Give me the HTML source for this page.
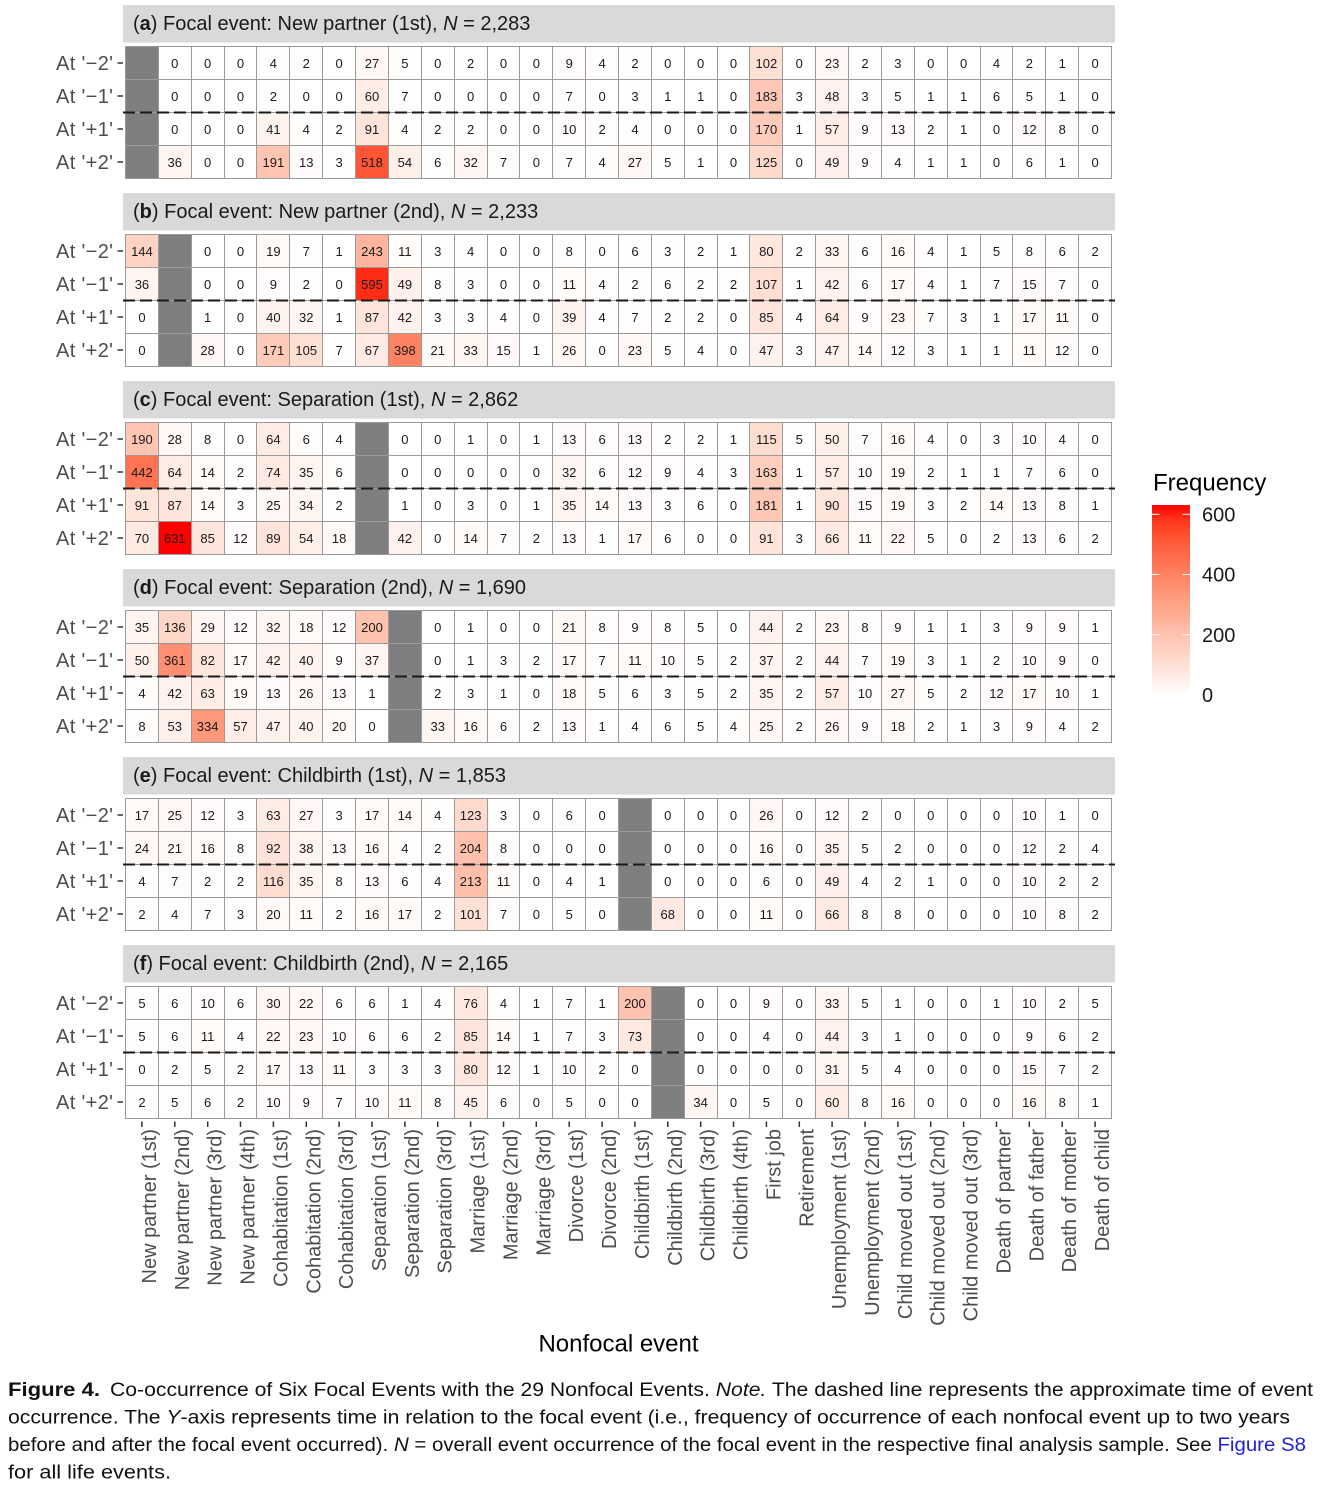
<!DOCTYPE html>
<html><head><meta charset="utf-8">
<style>
html,body{margin:0;padding:0;background:#fff;}
body{width:1322px;height:1498px;position:relative;overflow:hidden;font-family:"Liberation Sans",Arial,sans-serif;}
.g{position:absolute;left:125px;width:985px;height:131px;padding:1px;background:#9a9a9a;display:grid;grid-template-columns:repeat(30,1fr);grid-template-rows:repeat(4,1fr);gap:1px;z-index:1;}
.g i{font-style:normal;background:#fff;font:13px "Liberation Sans",Arial,sans-serif;color:#1a1a1a;display:flex;align-items:center;justify-content:center;}
.g i.x{background:#7f7f7f;}
svg{position:absolute;left:0;top:0;z-index:2;font-family:"Liberation Sans",Arial,sans-serif;}
</style></head><body>

<div class="g" style="top:46px">
<i class="x"></i><i>0</i><i>0</i><i>0</i><i>4</i><i>2</i><i>0</i><i>27</i><i>5</i><i>0</i><i>2</i><i>0</i><i>0</i><i>9</i><i>4</i><i>2</i><i>0</i><i>0</i><i>0</i><i>102</i><i>0</i><i>23</i><i>2</i><i>3</i><i>0</i><i>0</i><i>4</i><i>2</i><i>1</i><i>0</i>
<i class="x"></i><i>0</i><i>0</i><i>0</i><i>2</i><i>0</i><i>0</i><i>60</i><i>7</i><i>0</i><i>0</i><i>0</i><i>0</i><i>7</i><i>0</i><i>3</i><i>1</i><i>1</i><i>0</i><i>183</i><i>3</i><i>48</i><i>3</i><i>5</i><i>1</i><i>1</i><i>6</i><i>5</i><i>1</i><i>0</i>
<i class="x"></i><i>0</i><i>0</i><i>0</i><i>41</i><i>4</i><i>2</i><i>91</i><i>4</i><i>2</i><i>2</i><i>0</i><i>0</i><i>10</i><i>2</i><i>4</i><i>0</i><i>0</i><i>0</i><i>170</i><i>1</i><i>57</i><i>9</i><i>13</i><i>2</i><i>1</i><i>0</i><i>12</i><i>8</i><i>0</i>
<i class="x"></i><i>36</i><i>0</i><i>0</i><i>191</i><i>13</i><i>3</i><i>518</i><i>54</i><i>6</i><i>32</i><i>7</i><i>0</i><i>7</i><i>4</i><i>27</i><i>5</i><i>1</i><i>0</i><i>125</i><i>0</i><i>49</i><i>9</i><i>4</i><i>1</i><i>1</i><i>0</i><i>6</i><i>1</i><i>0</i>
</div>

<div class="g" style="top:234px">
<i>144</i><i class="x"></i><i>0</i><i>0</i><i>19</i><i>7</i><i>1</i><i>243</i><i>11</i><i>3</i><i>4</i><i>0</i><i>0</i><i>8</i><i>0</i><i>6</i><i>3</i><i>2</i><i>1</i><i>80</i><i>2</i><i>33</i><i>6</i><i>16</i><i>4</i><i>1</i><i>5</i><i>8</i><i>6</i><i>2</i>
<i>36</i><i class="x"></i><i>0</i><i>0</i><i>9</i><i>2</i><i>0</i><i>595</i><i>49</i><i>8</i><i>3</i><i>0</i><i>0</i><i>11</i><i>4</i><i>2</i><i>6</i><i>2</i><i>2</i><i>107</i><i>1</i><i>42</i><i>6</i><i>17</i><i>4</i><i>1</i><i>7</i><i>15</i><i>7</i><i>0</i>
<i>0</i><i class="x"></i><i>1</i><i>0</i><i>40</i><i>32</i><i>1</i><i>87</i><i>42</i><i>3</i><i>3</i><i>4</i><i>0</i><i>39</i><i>4</i><i>7</i><i>2</i><i>2</i><i>0</i><i>85</i><i>4</i><i>64</i><i>9</i><i>23</i><i>7</i><i>3</i><i>1</i><i>17</i><i>11</i><i>0</i>
<i>0</i><i class="x"></i><i>28</i><i>0</i><i>171</i><i>105</i><i>7</i><i>67</i><i>398</i><i>21</i><i>33</i><i>15</i><i>1</i><i>26</i><i>0</i><i>23</i><i>5</i><i>4</i><i>0</i><i>47</i><i>3</i><i>47</i><i>14</i><i>12</i><i>3</i><i>1</i><i>1</i><i>11</i><i>12</i><i>0</i>
</div>

<div class="g" style="top:422px">
<i>190</i><i>28</i><i>8</i><i>0</i><i>64</i><i>6</i><i>4</i><i class="x"></i><i>0</i><i>0</i><i>1</i><i>0</i><i>1</i><i>13</i><i>6</i><i>13</i><i>2</i><i>2</i><i>1</i><i>115</i><i>5</i><i>50</i><i>7</i><i>16</i><i>4</i><i>0</i><i>3</i><i>10</i><i>4</i><i>0</i>
<i>442</i><i>64</i><i>14</i><i>2</i><i>74</i><i>35</i><i>6</i><i class="x"></i><i>0</i><i>0</i><i>0</i><i>0</i><i>0</i><i>32</i><i>6</i><i>12</i><i>9</i><i>4</i><i>3</i><i>163</i><i>1</i><i>57</i><i>10</i><i>19</i><i>2</i><i>1</i><i>1</i><i>7</i><i>6</i><i>0</i>
<i>91</i><i>87</i><i>14</i><i>3</i><i>25</i><i>34</i><i>2</i><i class="x"></i><i>1</i><i>0</i><i>3</i><i>0</i><i>1</i><i>35</i><i>14</i><i>13</i><i>3</i><i>6</i><i>0</i><i>181</i><i>1</i><i>90</i><i>15</i><i>19</i><i>3</i><i>2</i><i>14</i><i>13</i><i>8</i><i>1</i>
<i>70</i><i>631</i><i>85</i><i>12</i><i>89</i><i>54</i><i>18</i><i class="x"></i><i>42</i><i>0</i><i>14</i><i>7</i><i>2</i><i>13</i><i>1</i><i>17</i><i>6</i><i>0</i><i>0</i><i>91</i><i>3</i><i>66</i><i>11</i><i>22</i><i>5</i><i>0</i><i>2</i><i>13</i><i>6</i><i>2</i>
</div>

<div class="g" style="top:610px">
<i>35</i><i>136</i><i>29</i><i>12</i><i>32</i><i>18</i><i>12</i><i>200</i><i class="x"></i><i>0</i><i>1</i><i>0</i><i>0</i><i>21</i><i>8</i><i>9</i><i>8</i><i>5</i><i>0</i><i>44</i><i>2</i><i>23</i><i>8</i><i>9</i><i>1</i><i>1</i><i>3</i><i>9</i><i>9</i><i>1</i>
<i>50</i><i>361</i><i>82</i><i>17</i><i>42</i><i>40</i><i>9</i><i>37</i><i class="x"></i><i>0</i><i>1</i><i>3</i><i>2</i><i>17</i><i>7</i><i>11</i><i>10</i><i>5</i><i>2</i><i>37</i><i>2</i><i>44</i><i>7</i><i>19</i><i>3</i><i>1</i><i>2</i><i>10</i><i>9</i><i>0</i>
<i>4</i><i>42</i><i>63</i><i>19</i><i>13</i><i>26</i><i>13</i><i>1</i><i class="x"></i><i>2</i><i>3</i><i>1</i><i>0</i><i>18</i><i>5</i><i>6</i><i>3</i><i>5</i><i>2</i><i>35</i><i>2</i><i>57</i><i>10</i><i>27</i><i>5</i><i>2</i><i>12</i><i>17</i><i>10</i><i>1</i>
<i>8</i><i>53</i><i>334</i><i>57</i><i>47</i><i>40</i><i>20</i><i>0</i><i class="x"></i><i>33</i><i>16</i><i>6</i><i>2</i><i>13</i><i>1</i><i>4</i><i>6</i><i>5</i><i>4</i><i>25</i><i>2</i><i>26</i><i>9</i><i>18</i><i>2</i><i>1</i><i>3</i><i>9</i><i>4</i><i>2</i>
</div>

<div class="g" style="top:798px">
<i>17</i><i>25</i><i>12</i><i>3</i><i>63</i><i>27</i><i>3</i><i>17</i><i>14</i><i>4</i><i>123</i><i>3</i><i>0</i><i>6</i><i>0</i><i class="x"></i><i>0</i><i>0</i><i>0</i><i>26</i><i>0</i><i>12</i><i>2</i><i>0</i><i>0</i><i>0</i><i>0</i><i>10</i><i>1</i><i>0</i>
<i>24</i><i>21</i><i>16</i><i>8</i><i>92</i><i>38</i><i>13</i><i>16</i><i>4</i><i>2</i><i>204</i><i>8</i><i>0</i><i>0</i><i>0</i><i class="x"></i><i>0</i><i>0</i><i>0</i><i>16</i><i>0</i><i>35</i><i>5</i><i>2</i><i>0</i><i>0</i><i>0</i><i>12</i><i>2</i><i>4</i>
<i>4</i><i>7</i><i>2</i><i>2</i><i>116</i><i>35</i><i>8</i><i>13</i><i>6</i><i>4</i><i>213</i><i>11</i><i>0</i><i>4</i><i>1</i><i class="x"></i><i>0</i><i>0</i><i>0</i><i>6</i><i>0</i><i>49</i><i>4</i><i>2</i><i>1</i><i>0</i><i>0</i><i>10</i><i>2</i><i>2</i>
<i>2</i><i>4</i><i>7</i><i>3</i><i>20</i><i>11</i><i>2</i><i>16</i><i>17</i><i>2</i><i>101</i><i>7</i><i>0</i><i>5</i><i>0</i><i class="x"></i><i>68</i><i>0</i><i>0</i><i>11</i><i>0</i><i>66</i><i>8</i><i>8</i><i>0</i><i>0</i><i>0</i><i>10</i><i>8</i><i>2</i>
</div>

<div class="g" style="top:986px">
<i>5</i><i>6</i><i>10</i><i>6</i><i>30</i><i>22</i><i>6</i><i>6</i><i>1</i><i>4</i><i>76</i><i>4</i><i>1</i><i>7</i><i>1</i><i>200</i><i class="x"></i><i>0</i><i>0</i><i>9</i><i>0</i><i>33</i><i>5</i><i>1</i><i>0</i><i>0</i><i>1</i><i>10</i><i>2</i><i>5</i>
<i>5</i><i>6</i><i>11</i><i>4</i><i>22</i><i>23</i><i>10</i><i>6</i><i>6</i><i>2</i><i>85</i><i>14</i><i>1</i><i>7</i><i>3</i><i>73</i><i class="x"></i><i>0</i><i>0</i><i>4</i><i>0</i><i>44</i><i>3</i><i>1</i><i>0</i><i>0</i><i>0</i><i>9</i><i>6</i><i>2</i>
<i>0</i><i>2</i><i>5</i><i>2</i><i>17</i><i>13</i><i>11</i><i>3</i><i>3</i><i>3</i><i>80</i><i>12</i><i>1</i><i>10</i><i>2</i><i>0</i><i class="x"></i><i>0</i><i>0</i><i>0</i><i>0</i><i>31</i><i>5</i><i>4</i><i>0</i><i>0</i><i>0</i><i>15</i><i>7</i><i>2</i>
<i>2</i><i>5</i><i>6</i><i>2</i><i>10</i><i>9</i><i>7</i><i>10</i><i>11</i><i>8</i><i>45</i><i>6</i><i>0</i><i>5</i><i>0</i><i>0</i><i class="x"></i><i>34</i><i>0</i><i>5</i><i>0</i><i>60</i><i>8</i><i>16</i><i>0</i><i>0</i><i>0</i><i>16</i><i>8</i><i>1</i>
</div>

<svg width="1322" height="1498" viewBox="0 0 1322 1498" xmlns="http://www.w3.org/2000/svg">
<defs>
<linearGradient id="lg" x1="0" y1="1" x2="0" y2="0">
<stop offset="0" stop-color="#ffffff"/>
<stop offset="0.15" stop-color="rgb(255,226,216)"/>
<stop offset="0.317" stop-color="rgb(255,194,174)"/>
<stop offset="0.5" stop-color="rgb(255,158,129)"/>
<stop offset="0.65" stop-color="rgb(255,126,94)"/>
<stop offset="0.82" stop-color="rgb(255,86,53)"/>
<stop offset="0.92" stop-color="rgb(255,54,28)"/>
<stop offset="1" stop-color="rgb(255,0,0)"/>
</linearGradient>
</defs>

<g fill="#d9d9d9">
<rect x="123" y="5" width="992" height="37.5"/>
<rect x="123" y="193" width="992" height="37.5"/>
<rect x="123" y="381" width="992" height="37.5"/>
<rect x="123" y="569" width="992" height="37.5"/>
<rect x="123" y="757" width="992" height="37.5"/>
<rect x="123" y="945" width="992" height="37.5"/>
</g>
<g font-size="20" fill="#1a1a1a">
<text x="133" y="30">(<tspan font-weight="bold">a</tspan>) Focal event: New partner (1st), <tspan font-style="italic">N</tspan> = 2,283</text>
<text x="133" y="218">(<tspan font-weight="bold">b</tspan>) Focal event: New partner (2nd), <tspan font-style="italic">N</tspan> = 2,233</text>
<text x="133" y="406">(<tspan font-weight="bold">c</tspan>) Focal event: Separation (1st), <tspan font-style="italic">N</tspan> = 2,862</text>
<text x="133" y="594">(<tspan font-weight="bold">d</tspan>) Focal event: Separation (2nd), <tspan font-style="italic">N</tspan> = 1,690</text>
<text x="133" y="782">(<tspan font-weight="bold">e</tspan>) Focal event: Childbirth (1st), <tspan font-style="italic">N</tspan> = 1,853</text>
<text x="133" y="970">(<tspan font-weight="bold">f</tspan>) Focal event: Childbirth (2nd), <tspan font-style="italic">N</tspan> = 2,165</text>
</g>

<g stroke="#1a1a1a" stroke-width="2" stroke-dasharray="12 5">
<line x1="123" y1="112.5" x2="1115" y2="112.5"/>
<line x1="123" y1="300.5" x2="1115" y2="300.5"/>
<line x1="123" y1="488.5" x2="1115" y2="488.5"/>
<line x1="123" y1="676.5" x2="1115" y2="676.5"/>
<line x1="123" y1="864.5" x2="1115" y2="864.5"/>
<line x1="123" y1="1052.5" x2="1115" y2="1052.5"/>
</g>

<g stroke="#333" stroke-width="1.5">
<line x1="117.5" x2="123" y1="63" y2="63"/><line x1="117.5" x2="123" y1="96" y2="96"/><line x1="117.5" x2="123" y1="129" y2="129"/><line x1="117.5" x2="123" y1="162" y2="162"/>
<line x1="117.5" x2="123" y1="251" y2="251"/><line x1="117.5" x2="123" y1="284" y2="284"/><line x1="117.5" x2="123" y1="317" y2="317"/><line x1="117.5" x2="123" y1="350" y2="350"/>
<line x1="117.5" x2="123" y1="439" y2="439"/><line x1="117.5" x2="123" y1="472" y2="472"/><line x1="117.5" x2="123" y1="505" y2="505"/><line x1="117.5" x2="123" y1="538" y2="538"/>
<line x1="117.5" x2="123" y1="627" y2="627"/><line x1="117.5" x2="123" y1="660" y2="660"/><line x1="117.5" x2="123" y1="693" y2="693"/><line x1="117.5" x2="123" y1="726" y2="726"/>
<line x1="117.5" x2="123" y1="815" y2="815"/><line x1="117.5" x2="123" y1="848" y2="848"/><line x1="117.5" x2="123" y1="881" y2="881"/><line x1="117.5" x2="123" y1="914" y2="914"/>
<line x1="117.5" x2="123" y1="1003" y2="1003"/><line x1="117.5" x2="123" y1="1036" y2="1036"/><line x1="117.5" x2="123" y1="1069" y2="1069"/><line x1="117.5" x2="123" y1="1102" y2="1102"/>
</g>

<g font-size="20" fill="#4d4d4d" text-anchor="end">
<text x="113" y="70" textLength="57">At '−2'</text><text x="113" y="103" textLength="57">At '−1'</text><text x="113" y="136" textLength="57">At '+1'</text><text x="113" y="169" textLength="57">At '+2'</text>
<text x="113" y="258" textLength="57">At '−2'</text><text x="113" y="291" textLength="57">At '−1'</text><text x="113" y="324" textLength="57">At '+1'</text><text x="113" y="357" textLength="57">At '+2'</text>
<text x="113" y="446" textLength="57">At '−2'</text><text x="113" y="479" textLength="57">At '−1'</text><text x="113" y="512" textLength="57">At '+1'</text><text x="113" y="545" textLength="57">At '+2'</text>
<text x="113" y="634" textLength="57">At '−2'</text><text x="113" y="667" textLength="57">At '−1'</text><text x="113" y="700" textLength="57">At '+1'</text><text x="113" y="733" textLength="57">At '+2'</text>
<text x="113" y="822" textLength="57">At '−2'</text><text x="113" y="855" textLength="57">At '−1'</text><text x="113" y="888" textLength="57">At '+1'</text><text x="113" y="921" textLength="57">At '+2'</text>
<text x="113" y="1010" textLength="57">At '−2'</text><text x="113" y="1043" textLength="57">At '−1'</text><text x="113" y="1076" textLength="57">At '+1'</text><text x="113" y="1109" textLength="57">At '+2'</text>
</g>

<g stroke="#333" stroke-width="1.5">
<line x1="141.9" x2="141.9" y1="1121.5" y2="1127"/><line x1="174.8" x2="174.8" y1="1121.5" y2="1127"/><line x1="207.7" x2="207.7" y1="1121.5" y2="1127"/><line x1="240.5" x2="240.5" y1="1121.5" y2="1127"/><line x1="273.4" x2="273.4" y1="1121.5" y2="1127"/>
<line x1="306.3" x2="306.3" y1="1121.5" y2="1127"/><line x1="339.1" x2="339.1" y1="1121.5" y2="1127"/><line x1="372" x2="372" y1="1121.5" y2="1127"/><line x1="404.9" x2="404.9" y1="1121.5" y2="1127"/><line x1="437.7" x2="437.7" y1="1121.5" y2="1127"/>
<line x1="470.6" x2="470.6" y1="1121.5" y2="1127"/><line x1="503.5" x2="503.5" y1="1121.5" y2="1127"/><line x1="536.3" x2="536.3" y1="1121.5" y2="1127"/><line x1="569.2" x2="569.2" y1="1121.5" y2="1127"/><line x1="602.1" x2="602.1" y1="1121.5" y2="1127"/>
<line x1="634.9" x2="634.9" y1="1121.5" y2="1127"/><line x1="667.8" x2="667.8" y1="1121.5" y2="1127"/><line x1="700.7" x2="700.7" y1="1121.5" y2="1127"/><line x1="733.5" x2="733.5" y1="1121.5" y2="1127"/><line x1="766.4" x2="766.4" y1="1121.5" y2="1127"/>
<line x1="799.3" x2="799.3" y1="1121.5" y2="1127"/><line x1="832.1" x2="832.1" y1="1121.5" y2="1127"/><line x1="865" x2="865" y1="1121.5" y2="1127"/><line x1="897.9" x2="897.9" y1="1121.5" y2="1127"/><line x1="930.7" x2="930.7" y1="1121.5" y2="1127"/>
<line x1="963.6" x2="963.6" y1="1121.5" y2="1127"/><line x1="996.5" x2="996.5" y1="1121.5" y2="1127"/><line x1="1029.3" x2="1029.3" y1="1121.5" y2="1127"/><line x1="1062.2" x2="1062.2" y1="1121.5" y2="1127"/><line x1="1095.1" x2="1095.1" y1="1121.5" y2="1127"/>
</g>

<g font-size="20" fill="#4d4d4d" text-anchor="end">
<text transform="translate(155.9,1129) rotate(-90)">New partner (1st)</text>
<text transform="translate(188.8,1129) rotate(-90)">New partner (2nd)</text>
<text transform="translate(221.7,1129) rotate(-90)">New partner (3rd)</text>
<text transform="translate(254.5,1129) rotate(-90)">New partner (4th)</text>
<text transform="translate(287.4,1129) rotate(-90)">Cohabitation (1st)</text>
<text transform="translate(320.3,1129) rotate(-90)">Cohabitation (2nd)</text>
<text transform="translate(353.1,1129) rotate(-90)">Cohabitation (3rd)</text>
<text transform="translate(386,1129) rotate(-90)">Separation (1st)</text>
<text transform="translate(418.9,1129) rotate(-90)">Separation (2nd)</text>
<text transform="translate(451.7,1129) rotate(-90)">Separation (3rd)</text>
<text transform="translate(484.6,1129) rotate(-90)">Marriage (1st)</text>
<text transform="translate(517.5,1129) rotate(-90)">Marriage (2nd)</text>
<text transform="translate(550.3,1129) rotate(-90)">Marriage (3rd)</text>
<text transform="translate(583.2,1129) rotate(-90)">Divorce (1st)</text>
<text transform="translate(616.1,1129) rotate(-90)">Divorce (2nd)</text>
<text transform="translate(648.9,1129) rotate(-90)">Childbirth (1st)</text>
<text transform="translate(681.8,1129) rotate(-90)">Childbirth (2nd)</text>
<text transform="translate(714.7,1129) rotate(-90)">Childbirth (3rd)</text>
<text transform="translate(747.5,1129) rotate(-90)">Childbirth (4th)</text>
<text transform="translate(780.4,1129) rotate(-90)">First job</text>
<text transform="translate(813.3,1129) rotate(-90)">Retirement</text>
<text transform="translate(846.1,1129) rotate(-90)">Unemployment (1st)</text>
<text transform="translate(879,1129) rotate(-90)">Unemployment (2nd)</text>
<text transform="translate(911.9,1129) rotate(-90)">Child moved out (1st)</text>
<text transform="translate(944.7,1129) rotate(-90)">Child moved out (2nd)</text>
<text transform="translate(977.6,1129) rotate(-90)">Child moved out (3rd)</text>
<text transform="translate(1010.5,1129) rotate(-90)">Death of partner</text>
<text transform="translate(1043.3,1129) rotate(-90)">Death of father</text>
<text transform="translate(1076.2,1129) rotate(-90)">Death of mother</text>
<text transform="translate(1109.1,1129) rotate(-90)">Death of child</text>
</g>

<text x="618.5" y="1351.5" font-size="24" fill="#000" text-anchor="middle">Nonfocal event</text>

<text x="1153" y="490.5" font-size="24" fill="#000">Frequency</text>
<rect x="1152" y="505" width="38" height="190" fill="url(#lg)"/>
<g stroke="#fff" stroke-width="1">
<line x1="1152" x2="1159.5" y1="514.3" y2="514.3"/><line x1="1182.5" x2="1190" y1="514.3" y2="514.3"/>
<line x1="1152" x2="1159.5" y1="574.5" y2="574.5"/><line x1="1182.5" x2="1190" y1="574.5" y2="574.5"/>
<line x1="1152" x2="1159.5" y1="634.8" y2="634.8"/><line x1="1182.5" x2="1190" y1="634.8" y2="634.8"/>
</g>
<g font-size="20" fill="#1a1a1a">
<text x="1202" y="521.5">600</text>
<text x="1202" y="581.7">400</text>
<text x="1202" y="642">200</text>
<text x="1202" y="702.2">0</text>
</g>

<g font-size="19" fill="#111">
<text x="8" y="1396" font-weight="bold" textLength="92" lengthAdjust="spacingAndGlyphs">Figure 4.</text>
<text x="110" y="1396" textLength="1203" lengthAdjust="spacingAndGlyphs">Co-occurrence of Six Focal Events with the 29 Nonfocal Events. <tspan font-style="italic">Note.</tspan> The dashed line represents the approximate time of event</text>
<text x="8" y="1423.5" textLength="1282" lengthAdjust="spacingAndGlyphs">occurrence. The <tspan font-style="italic">Y</tspan>-axis represents time in relation to the focal event (i.e., frequency of occurrence of each nonfocal event up to two years</text>
<text x="8" y="1451" textLength="1298" lengthAdjust="spacingAndGlyphs">before and after the focal event occurred). <tspan font-style="italic">N</tspan> = overall event occurrence of the focal event in the respective final analysis sample. See <tspan fill="#1f1fd6">Figure S8</tspan></text>
<text x="8" y="1478.5" textLength="163" lengthAdjust="spacingAndGlyphs">for all life events.</text>
</g>
</svg>

<script>
(function(){
function f(x){var x3=x*x*x;return x3>0.008856?x3:(x-16/116)/7.787;}
function c(u){u=u<=0.0031308?12.92*u:1.055*Math.pow(u,1/2.4)-0.055;return Math.round(Math.max(0,Math.min(1,u))*255);}
function col(v){var t=Math.min(1,v/631),L=100-46.76*t,A=80.09*t,B=67.2*t,fy=(L+16)/116,fx=fy+A/500,fz=fy-B/200,X=0.95047*f(fx),Y=f(fy),Z=1.08883*f(fz);
return 'rgb('+c(3.2406*X-1.5372*Y-0.4986*Z)+','+c(-0.9689*X+1.8758*Y+0.0415*Z)+','+c(0.0557*X-0.204*Y+1.057*Z)+')';}
var a=document.querySelectorAll('.g i');
for(var k=0;k<a.length;k++){var e=a[k];if(e.className)continue;var v=parseInt(e.textContent,10);if(v>0)e.style.background=col(v);}
})();
</script>
</body></html>
